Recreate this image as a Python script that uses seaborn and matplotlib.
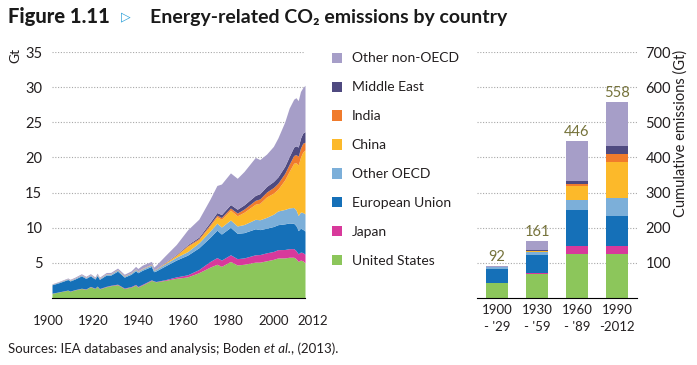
import numpy as np
import matplotlib
matplotlib.use("Agg")
import matplotlib.pyplot as plt
import matplotlib.transforms as mtransforms
import seaborn as sns
from matplotlib.patches import Patch

# Annual energy-related CO2 emissions by region (Gt)
years = [1900, 1903, 1907, 1908, 1910, 1913, 1915, 1917, 1919, 1920, 1921, 1924,
         1926, 1929, 1932, 1935, 1937, 1938, 1940, 1944, 1945, 1946, 1950, 1955,
         1960, 1965, 1970, 1973, 1975, 1979, 1982, 1985, 1990, 1992, 1995, 1998,
         2000, 2003, 2005, 2007, 2008, 2009, 2010, 2011, 2012]
us = [0.66, 0.85, 1.10, 0.95, 1.15, 1.35, 1.25, 1.60, 1.35, 1.65, 1.30, 1.60,
      1.75, 1.90, 1.35, 1.55, 1.85, 1.55, 1.85, 2.50, 2.40, 2.30, 2.50, 2.80,
      3.00, 3.60, 4.40, 4.80, 4.50, 5.20, 4.70, 4.80, 5.10, 5.10, 5.30, 5.50,
      5.70, 5.70, 5.80, 5.80, 5.60, 5.20, 5.40, 5.30, 5.00]
japan = [0.02, 0.02, 0.03, 0.03, 0.03, 0.04, 0.04, 0.05, 0.05, 0.05, 0.05, 0.06,
         0.06, 0.07, 0.07, 0.08, 0.09, 0.09, 0.10, 0.09, 0.04, 0.05, 0.10, 0.20,
         0.30, 0.45, 0.80, 0.95, 0.90, 0.95, 0.90, 0.90, 1.05, 1.08, 1.13, 1.12,
         1.18, 1.20, 1.22, 1.23, 1.15, 1.08, 1.13, 1.17, 1.22]
eu = [1.20, 1.30, 1.50, 1.45, 1.50, 1.75, 1.50, 1.50, 1.30, 1.50, 1.30, 1.60,
      1.45, 1.85, 1.55, 1.75, 1.95, 1.95, 2.00, 1.90, 1.30, 1.50, 1.95, 2.40,
      2.80, 3.10, 3.45, 3.90, 3.70, 3.90, 3.60, 3.60, 3.70, 3.55, 3.50, 3.55,
      3.55, 3.65, 3.65, 3.60, 3.55, 3.30, 3.40, 3.30, 3.30]
other_oecd = [0.08, 0.09, 0.10, 0.10, 0.11, 0.13, 0.12, 0.13, 0.12, 0.14, 0.12, 0.15,
              0.15, 0.17, 0.14, 0.16, 0.18, 0.18, 0.20, 0.22, 0.22, 0.23, 0.30, 0.40,
              0.50, 0.70, 0.90, 1.00, 1.00, 1.05, 1.05, 1.15, 1.35, 1.40, 1.55, 1.75,
              1.95, 2.05, 2.15, 2.25, 2.25, 2.15, 2.30, 2.40, 2.45]
china = [0.00, 0.00, 0.01, 0.01, 0.01, 0.01, 0.01, 0.01, 0.01, 0.02, 0.02, 0.02,
         0.02, 0.03, 0.03, 0.03, 0.04, 0.04, 0.04, 0.04, 0.03, 0.02, 0.08, 0.25,
         0.75, 0.45, 0.75, 0.90, 1.10, 1.40, 1.45, 1.75, 2.15, 2.35, 2.90, 3.00,
         3.10, 4.20, 5.20, 6.30, 6.70, 7.20, 7.80, 8.60, 9.10]
india = [0.02, 0.02, 0.02, 0.02, 0.02, 0.03, 0.03, 0.03, 0.03, 0.03, 0.03, 0.03,
         0.03, 0.03, 0.03, 0.03, 0.03, 0.03, 0.03, 0.04, 0.04, 0.04, 0.06, 0.08,
         0.12, 0.17, 0.20, 0.23, 0.25, 0.30, 0.38, 0.45, 0.55, 0.62, 0.70, 0.80,
         0.85, 0.92, 1.00, 1.10, 1.15, 1.25, 1.30, 1.25, 1.10]
middle_east = [0.00, 0.00, 0.00, 0.00, 0.00, 0.00, 0.00, 0.00, 0.00, 0.00, 0.00, 0.00,
               0.00, 0.01, 0.01, 0.01, 0.01, 0.01, 0.01, 0.02, 0.02, 0.02, 0.05, 0.08,
               0.12, 0.20, 0.30, 0.38, 0.42, 0.50, 0.55, 0.60, 0.70, 0.75, 0.80, 0.85,
               0.90, 1.00, 1.10, 1.20, 1.25, 1.30, 1.40, 1.45, 1.50]
other_non_oecd = [0.04, 0.07, 0.09, 0.10, 0.12, 0.14, 0.13, 0.14, 0.14, 0.15, 0.14, 0.17,
                  0.18, 0.20, 0.20, 0.25, 0.35, 0.35, 0.45, 0.40, 0.35, 0.50, 0.95, 1.40,
                  2.10, 2.55, 3.30, 3.85, 4.35, 4.50, 4.40, 4.75, 5.40, 4.85, 4.60, 5.00,
                  5.55, 6.30, 6.90, 6.80, 6.85, 6.60, 6.65, 6.45, 6.60]

# Cumulative emissions by period (Gt)
periods = ["1900\n- '29", "1930\n- '59", "1960\n- '89", "1990\n-2012"]
cum_us = [42, 67, 124, 124]
cum_japan = [1, 4, 25, 25]
cum_eu = [40, 52, 102, 85]
cum_other_oecd = [4, 7, 29, 51]
cum_china = [1, 3, 38, 101]
cum_india = [1, 2, 7, 23]
cum_middle_east = [0, 1, 7, 24]
cum_other_non_oecd = [3, 25, 114, 125]

labels = ["United States", "Japan", "European Union", "Other OECD",
          "China", "India", "Middle East", "Other non-OECD"]
colors = ["#8cc65b", "#d8399b", "#1570b8", "#7cafd9",
          "#fcb92a", "#f07b2c", "#4f4a80", "#a69ec8"]

sns.set_style("white")
plt.rcParams["font.family"] = ["Lato", "DejaVu Sans"]

W, H = 697, 365
fig = plt.figure(figsize=(W / 100, H / 100), dpi=100)
fig.patch.set_facecolor("white")
txt = "#231f20"
grid_kw = dict(color="#a8a8a8", linestyle=(0, (1, 1.5)), linewidth=0.8)

# ---- left: annual emissions stacked area
ax1 = fig.add_axes([52 / W, 1 - 298 / H, (305 - 52) / W, (298 - 52) / H])
series = [us, japan, eu, other_oecd, china, india, middle_east, other_non_oecd]
ax1.stackplot(years, *series, colors=colors, linewidth=0)
ax1.set_xlim(1900, 2012)
ax1.set_ylim(0, 35)
ax1.set_yticks([5, 10, 15, 20, 25, 30, 35])
ax1.set_xticks([1900, 1920, 1940, 1960, 1980, 2000, 2012])
ax1.yaxis.grid(True, **grid_kw)
ax1.set_axisbelow(True)
sns.despine(ax=ax1, left=True)
ax1.spines["bottom"].set_color("black")
ax1.tick_params(axis="x", direction="out", length=5, width=0.8, color="black",
                pad=7, labelsize=9.5, labelcolor=txt)
ax1.tick_params(axis="y", length=0, pad=7, labelsize=10.5, labelcolor=txt)
# nudge tick labels like the original (last one pushed right)
xlabs = ax1.get_xticklabels()
for i, t in enumerate(xlabs):
    dx = 8 if i == len(xlabs) - 1 else -4
    t.set_transform(t.get_transform() +
                    mtransforms.ScaledTranslation(dx / 100, 0, fig.dpi_scale_trans))
ax1.set_ylabel("Gt", fontsize=10, color=txt, rotation=90)
ax1.yaxis.set_label_coords(-31 / 253, 0.985)

# ---- right: cumulative emissions stacked bars
ax2 = fig.add_axes([477 / W, 1 - 298 / H, (637 - 477) / W, (298 - 52) / H])
cum_series = [cum_us, cum_japan, cum_eu, cum_other_oecd, cum_china,
              cum_india, cum_middle_east, cum_other_non_oecd]
x = np.arange(len(periods))
bottom = np.zeros(len(periods))
for vals, col in zip(cum_series, colors):
    ax2.bar(x, vals, bottom=bottom, width=0.55, color=col, linewidth=0)
    bottom += np.array(vals)
for xi, tot in zip(x, bottom):
    ax2.text(xi, tot + 6, f"{int(tot)}", ha="center", va="bottom",
             fontsize=10.5, color="#76733b")
ax2.set_xlim(-0.5, 3.5)
ax2.set_ylim(0, 700)
ax2.set_yticks([100, 200, 300, 400, 500, 600, 700])
ax2.yaxis.grid(True, **grid_kw)
ax2.set_axisbelow(True)
sns.despine(ax=ax2, left=True)
ax2.spines["bottom"].set_color("black")
ax2.yaxis.tick_right()
ax2.tick_params(axis="y", length=0, pad=6, labelsize=10.5, labelcolor=txt)
ax2.set_xticks([-0.5, 0.5, 1.5, 2.5, 3.5])
ax2.set_xticklabels([])
ax2.set_xticks(x, minor=True)
ax2.set_xticklabels(periods, minor=True)
ax2.tick_params(axis="x", which="major", direction="out", length=5, width=0.8,
                color="black")
ax2.tick_params(axis="x", which="minor", length=0, pad=4, labelsize=9.5,
                labelcolor=txt)
for t in ax2.get_xticklabels(minor=True):
    t.set_linespacing(1.5)
ax2.set_ylabel("Cumulative emissions (Gt)", fontsize=10.5, color=txt)
ax2.yaxis.set_label_position("right")
ax2.yaxis.set_label_coords(1.225, 0.67)

# ---- legend (top entry = top of stack)
handles = [Patch(facecolor=c, edgecolor="none") for c in colors[::-1]]
leg = fig.legend(handles, labels[::-1], loc="upper left",
                 bbox_to_anchor=(319 / W, 1 - 40 / H), frameon=False,
                 fontsize=10, handlelength=0.75, handleheight=0.75,
                 handletextpad=0.7, labelspacing=1.22)
for t in leg.get_texts():
    t.set_color(txt)

# ---- title and source
fig.text(8 / W, 1 - 17 / H, "Figure 1.11", fontsize=14.5, fontweight="black",
         color="#1a1a1a", va="center")
fig.text(121 / W, 1 - 17 / H, "\u25b7", fontsize=9, color="#2a9fd8",
         va="center", family="DejaVu Sans")
fig.text(150 / W, 1 - 17 / H, "Energy-related CO\u2082 emissions by country",
         fontsize=14, fontweight="bold", color="#1a1a1a", va="center")

renderer = fig.canvas.get_renderer()
xpos = 8 / W
for piece, style in [("Sources: IEA databases and analysis; Boden ", "normal"),
                     ("et al.", "italic"), (", (2013).", "normal")]:
    t = fig.text(xpos, 1 - 349 / H, piece, fontsize=9.5, color=txt,
                 va="center", style=style)
    bb = t.get_window_extent(renderer)
    xpos = bb.x1 / (W * fig.dpi / 100)

fig.savefig("out.png", dpi=100, facecolor="white")
